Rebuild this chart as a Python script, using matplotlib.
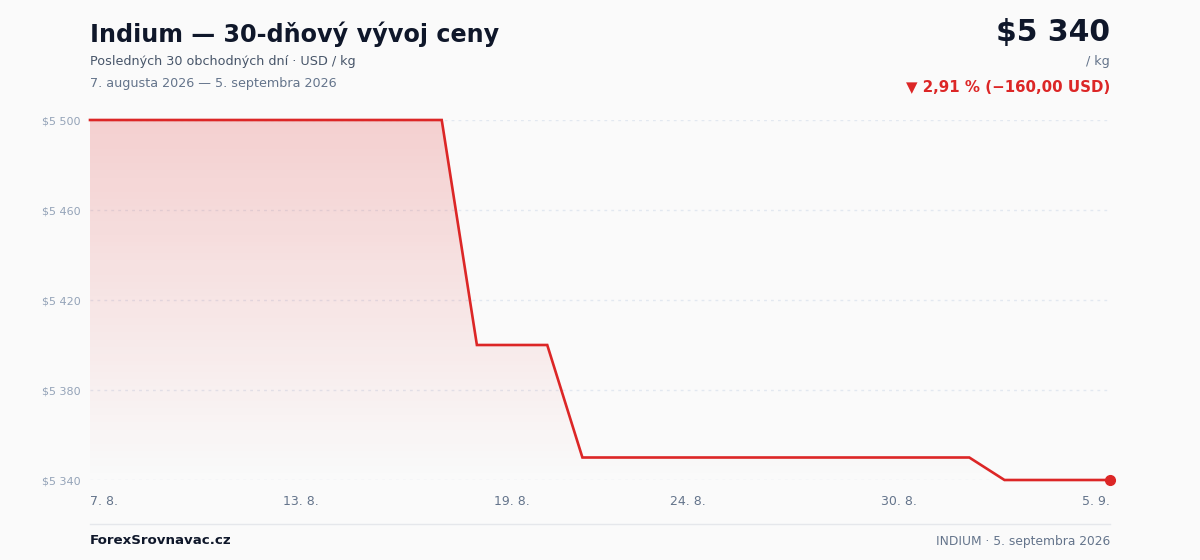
import numpy as np
import matplotlib.pyplot as plt
from matplotlib.patches import Polygon

# 30 calendar days, 7. 8. - 5. 9. 2026
days = np.arange(30)
prices = [5500] * 11 + [5400] * 3 + [5350] * 12 + [5340] * 4
tick_idx = [0, 6, 12, 17, 23, 29]
tick_labels = ["7. 8.", "13. 8.", "19. 8.", "24. 8.", "30. 8.", "5. 9."]
y_ticks = [5340, 5380, 5420, 5460, 5500]
y_labels = ["$5 340", "$5 380", "$5 420", "$5 460", "$5 500"]

RED = "#dc2626"
BG = "#fafafa"

fig = plt.figure(figsize=(12, 5.6), dpi=100, facecolor=BG)
ax = fig.add_axes([90 / 1200, 1 - 480 / 560, 1020 / 1200, 360 / 560])
ax.set_facecolor(BG)
ax.set_xlim(0, 29)
ax.set_ylim(5340, 5500)

# gradient fill under the line
grad = np.zeros((100, 1, 4))
grad[:, 0, 0] = 220 / 255
grad[:, 0, 1] = 38 / 255
grad[:, 0, 2] = 38 / 255
grad[:, 0, 3] = np.linspace(0.2, 0.0, 100)
img = ax.imshow(grad, aspect="auto", extent=[0, 29, 5340, 5500], origin="upper", zorder=1)
verts = list(zip(days, prices)) + [(29, 5340), (0, 5340)]
poly = Polygon(verts, closed=True, facecolor="none", edgecolor="none")
ax.add_patch(poly)
img.set_clip_path(poly)

for y in y_ticks:
    ax.axhline(y, color="#e2e8f0", lw=1, ls=(0, (2, 3)), zorder=0)

ax.plot(days, prices, color=RED, lw=1.9, zorder=3, clip_on=False, solid_joinstyle="miter")
ax.plot(days[-1], prices[-1], "o", color=RED, ms=7, zorder=4, clip_on=False)

for s in ax.spines.values():
    s.set_visible(False)
ax.tick_params(length=0)
ax.set_yticks(y_ticks)
ax.set_yticklabels(y_labels, fontsize=8, color="#94a3b8")
ax.tick_params(axis="y", pad=7)
ax.set_xticks([])
for i, lab in zip(tick_idx, tick_labels):
    ha = "left" if i == 0 else ("right" if i == 29 else "center")
    ax.annotate(lab, (i, 5340), xytext=(0, -15.5), textcoords="offset points",
                ha=ha, va="center", fontsize=9, color="#64748b", annotation_clip=False)

# header
fig.text(90 / 1200, 1 - 34 / 560, "Indium — 30-dňový vývoj ceny", fontsize=17.2, fontweight="bold",
         color="#0f172a", va="center")
fig.text(90 / 1200, 1 - 61 / 560, "Posledných 30 obchodných dní · USD / kg", fontsize=9.2,
         color="#475569", va="center")
fig.text(90 / 1200, 1 - 83 / 560, "7. augusta 2026 — 5. septembra 2026", fontsize=9.2,
         color="#64748b", va="center")
fig.text(1110 / 1200, 1 - 32 / 560, "$5 340", fontsize=21.5, fontweight="bold",
         color="#0f172a", va="center", ha="right")
fig.text(1110 / 1200, 1 - 62 / 560, "/ kg", fontsize=9.2, color="#64748b", va="center", ha="right")
fig.text(1110 / 1200, 1 - 87 / 560, "▼ 2,91 % (−160,00 USD)", fontsize=10.8, fontweight="bold",
         color=RED, va="center", ha="right")

# footer
fig.add_artist(plt.Line2D([90 / 1200, 1110 / 1200], [1 - 524 / 560] * 2, color="#e5e7eb", lw=1))
fig.text(90 / 1200, 1 - 541 / 560, "ForexSrovnavac.cz", fontsize=9.6, fontweight="bold",
         color="#0f172a", va="center")
fig.text(1110 / 1200, 1 - 541 / 560, "INDIUM · 5. septembra 2026", fontsize=8.8,
         color="#64748b", va="center", ha="right")

fig.savefig("out.png", dpi=100, facecolor=BG)
